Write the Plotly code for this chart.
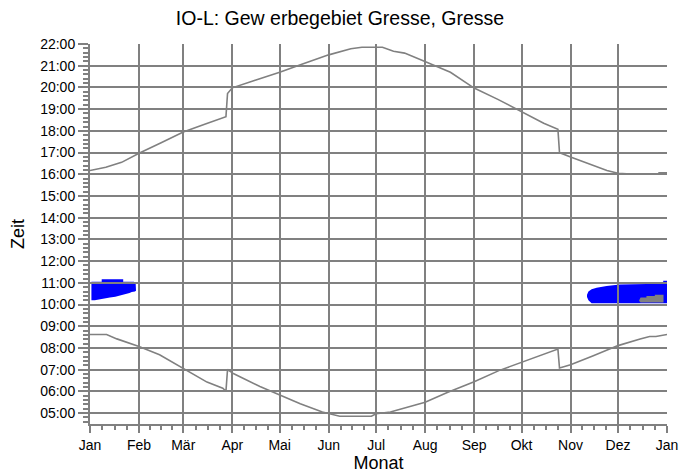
import plotly.graph_objects as go

# ---------------- data ----------------
months = ["Jan", "Feb", "Mär", "Apr", "Mai", "Jun", "Jul", "Aug", "Sep", "Okt", "Nov", "Dez", "Jan"]
month_start_day = [0, 31, 59, 90, 120, 151, 181, 212, 243, 273, 304, 334, 365]

hour_ticks = list(range(5, 23))
hour_labels = [f"{h:02d}:00" for h in hour_ticks]

# sunset (day of year, decimal hours local time)
sunset_day = [0, 10, 20, 31, 45, 59, 73, 86, 87, 90, 104, 120, 134, 151, 165, 172, 185,
              192, 199, 207, 213, 228, 243, 258, 273, 287, 296, 297, 304, 318, 327, 334,
              345, 359, 360, 365]
sunset_hour = [16.17, 16.32, 16.55, 16.97, 17.45, 17.95, 18.32, 18.65, 19.72, 19.98, 20.32,
               20.70, 21.07, 21.50, 21.78, 21.85, 21.85, 21.67, 21.58, 21.32, 21.16, 20.70,
               19.97, 19.45, 18.87, 18.35, 18.07, 17.00, 16.80, 16.41, 16.17, 16.05, 16.00,
               16.00, 16.07, 16.07]

# sunrise (day of year, decimal hours local time)
sunrise_day = [0, 10.5, 17, 31, 44, 59.5, 74, 84, 86, 87, 91, 107.5, 120, 133, 147, 151,
               158, 178, 181, 190, 209, 212, 226, 243, 259, 273, 287, 296, 297, 304, 318,
               334, 348, 354, 358, 365]
sunrise_hour = [8.62, 8.62, 8.42, 8.07, 7.69, 7.05, 6.43, 6.15, 6.01, 7.01, 6.81, 6.23, 5.85,
                5.43, 5.05, 4.97, 4.86, 4.86, 4.97, 5.05, 5.43, 5.50, 5.95, 6.45, 6.97, 7.35,
                7.70, 7.95, 7.08, 7.23, 7.63, 8.11, 8.41, 8.53, 8.53, 8.62]

# shadow period January (outline: day, time)
shadow_jan_day = [0.9, 7.4, 7.4, 21.0, 21.0, 27.8, 28.9, 29.1, 29.1, 28.4, 26.4, 25.0, 23.2,
                  21.0, 19.0, 16.0, 12.6, 9.5, 6.3, 3.0, 0.9]
shadow_jan_time = [11.05, 11.05, 11.17, 11.17, 11.05, 11.05, 10.95, 10.85, 10.64, 10.60,
                   10.58, 10.53, 10.50, 10.43, 10.41, 10.36, 10.33, 10.28, 10.25, 10.20, 10.20]

# shadow period November/December (outline: day, time)
shadow_dec_day = [314.4, 315.3, 317.3, 320.5, 326.8, 335.2, 352.1, 352.1, 362.6, 362.6, 365.0,
                  365.0, 317.3, 315.3, 314.4]
shadow_dec_time = [10.45, 10.60, 10.70, 10.78, 10.85, 10.93, 10.95, 11.00, 11.00, 11.10, 11.10,
                   10.06, 10.06, 10.20, 10.35]

# second receptor / overlapping period (grey)
shadow2_day = [347.4, 348.3, 352.0, 352.0, 357.3, 357.3, 362.8, 362.8, 348.3, 347.4]
shadow2_time = [10.20, 10.32, 10.32, 10.40, 10.40, 10.45, 10.45, 10.10, 10.10, 10.16]

# ---------------- figure ----------------
gray = "#808080"
minor_x = []
for i in range(12):
    a, b = month_start_day[i], month_start_day[i + 1]
    minor_x += [a + (b - a) * k / 4 for k in (1, 2, 3)]

fig = go.Figure()
fig.add_trace(go.Scatter(x=shadow_jan_day, y=shadow_jan_time, mode="lines", fill="toself",
                         fillcolor="#0000FF", line=dict(width=0, color="#0000FF"),
                         hoverinfo="skip", showlegend=False))
fig.add_trace(go.Scatter(x=shadow_dec_day, y=shadow_dec_time, mode="lines", fill="toself",
                         fillcolor="#0000FF", line=dict(width=0, color="#0000FF"),
                         hoverinfo="skip", showlegend=False))
fig.add_trace(go.Scatter(x=shadow2_day, y=shadow2_time, mode="lines", fill="toself",
                         fillcolor=gray, line=dict(width=0, color=gray),
                         hoverinfo="skip", showlegend=False))
fig.add_trace(go.Scatter(x=sunset_day, y=sunset_hour, mode="lines",
                         line=dict(color=gray, width=1.6), xaxis="x2", yaxis="y2",
                         hoverinfo="skip", showlegend=False))
fig.add_trace(go.Scatter(x=sunrise_day, y=sunrise_hour, mode="lines",
                         line=dict(color=gray, width=1.6), xaxis="x2", yaxis="y2",
                         hoverinfo="skip", showlegend=False))

W, H = 689, 466  # page body has an 8px margin
fig.update_layout(
    width=W, height=H,
    margin=dict(l=82, r=30, t=36, b=50, autoexpand=False),
    paper_bgcolor="white", plot_bgcolor="rgba(0,0,0,0)",
    font=dict(family="Liberation Sans, Arial, sans-serif", size=14, color="black"),
    title=dict(text="IO-L: Gew erbegebiet Gresse, Gresse", x=332 / W, xanchor="center",
               xref="container", y=1 - 10 / H, yanchor="middle", yref="container",
               font=dict(size=19.5, color="black")),
    showlegend=False,
    hovermode=False,
    xaxis=dict(range=[0, 365], domain=[0, 1], anchor="y", tickmode="array", automargin=False,
               tickvals=month_start_day, ticktext=months, ticks="outside", ticklen=7,
               tickwidth=2, tickcolor=gray, showline=True, linecolor=gray, linewidth=2,
               showgrid=False, zeroline=False,
               minor=dict(tickmode="array", tickvals=minor_x, ticks="outside", ticklen=4,
                          tickwidth=2, tickcolor=gray, showgrid=False),
               title=dict(text="Monat", font=dict(size=18), standoff=4)),
    yaxis=dict(range=[4.5, 22], domain=[0, 1], anchor="x", tickmode="array", automargin=False,
               tickvals=hour_ticks, ticktext=hour_labels, ticks="outside", ticklen=10,
               tickwidth=2, tickcolor=gray, showline=True, linecolor=gray, linewidth=2,
               showgrid=False, zeroline=False,
               minor=dict(tick0=0, dtick=0.2, ticks="outside", ticklen=5, tickwidth=1.5,
                          tickcolor=gray, showgrid=False),
               title=dict(text="Zeit", font=dict(size=18), standoff=12)),
    xaxis2=dict(range=[0, 365], domain=[0, 1], anchor="y2", tickmode="array", automargin=False,
                tickvals=month_start_day[1:-1], showticklabels=False, ticks="",
                showline=False, zeroline=False, showgrid=True, gridcolor=gray, gridwidth=2),
    yaxis2=dict(range=[4.5, 22], domain=[0, 1], anchor="x2", tickmode="array", automargin=False,
                tickvals=hour_ticks[:-1], showticklabels=False, ticks="",
                showline=False, zeroline=False, showgrid=True, gridcolor=gray, gridwidth=2),
)

fig.write_html("out.html")
